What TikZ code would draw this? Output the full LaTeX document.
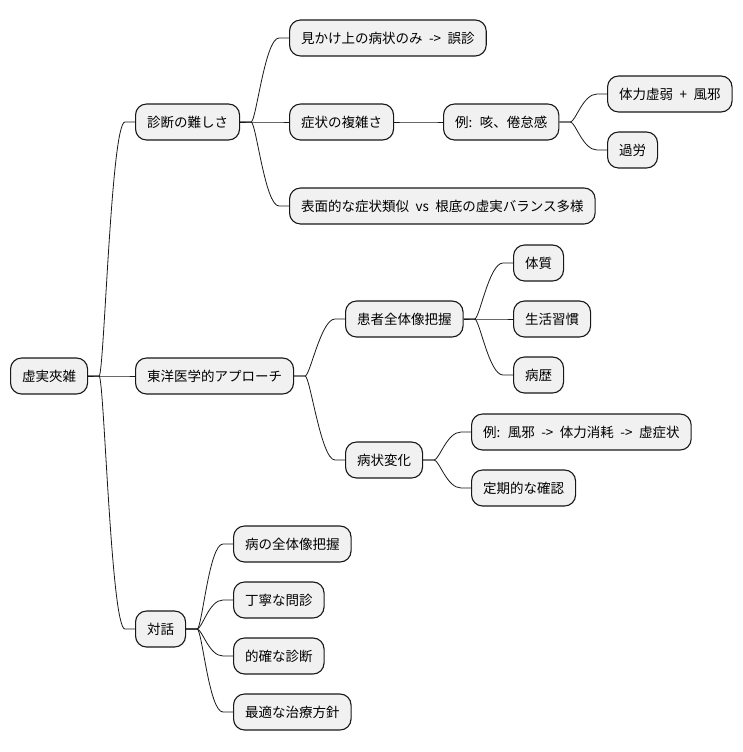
\documentclass[tikz,border=0pt]{standalone}
\usepackage{fontspec}
\setmainfont{Noto Sans CJK JP}
\usepackage{xcolor}
\definecolor{boxfill}{RGB}{241,241,241}
\definecolor{boxline}{RGB}{24,24,24}
\newcommand{\topicfont}{\fontsize{13.5}{16}\selectfont\spaceskip=6.5pt plus 0pt minus 0pt\relax}

\begin{document}
\begin{tikzpicture}[x=1pt, y=-1pt,
    topic/.style={draw=boxline, fill=boxfill, rounded corners=11pt, line width=1.1pt,
                  anchor=west, minimum height=36pt, inner xsep=11.5pt,
                  font=\topicfont},
    link/.style={line width=0.8pt, color=boxline}
]
\useasboundingbox (0,0) rectangle (742,752);
% root and first level
\node[topic] (root) at (10,376) {虚実夾雑};
\node[topic] (diag) at (135,122) {診断の難しさ};
\node[topic] (east) at (135,376) {東洋医学的アプローチ};
\node[topic] (talk) at (135,629) {対話};
% diagnosis branch
\node[topic] (mis) at (289,38) {見かけ上の病状のみ -> 誤診};
\node[topic] (cplx) at (289,122) {症状の複雑さ};
\node[topic] (ex1) at (443,122) {例: 咳、倦怠感};
\node[topic] (weak) at (607,94) {体力虚弱 + 風邪};
\node[topic] (tired) at (607,150) {過労};
\node[topic] (surf) at (289,206) {表面的な症状類似 vs 根底の虚実バランス多様};
% eastern medicine branch
\node[topic] (whole) at (345,319) {患者全体像把握};
\node[topic] (const) at (513,263) {体質};
\node[topic] (habit) at (513,319) {生活習慣};
\node[topic] (hist) at (513,375) {病歴};
\node[topic] (chg) at (345,460) {病状変化};
\node[topic] (ex2) at (471,432) {例: 風邪 -> 体力消耗 -> 虚症状};
\node[topic] (check) at (471,488) {定期的な確認};
% dialogue branch
\node[topic] (pic) at (233,544) {病の全体像把握};
\node[topic] (ask) at (233,600) {丁寧な問診};
\node[topic] (exact) at (233,656) {的確な診断};
\node[topic] (plan) at (233,712) {最適な治療方針};
% links
\foreach \p/\c in {root/diag, root/east, root/talk,
                   diag/mis, diag/cplx, diag/surf, cplx/ex1, ex1/weak, ex1/tired,
                   east/whole, east/chg, whole/const, whole/habit, whole/hist,
                   chg/ex2, chg/check,
                   talk/pic, talk/ask, talk/exact, talk/plan}
  \draw[link] (\p.east) -- ++(11,0) .. controls +(5,0) and +(-14,0) .. ([xshift=-10pt]\c.west) -- (\c.west);
\end{tikzpicture}
\end{document}
